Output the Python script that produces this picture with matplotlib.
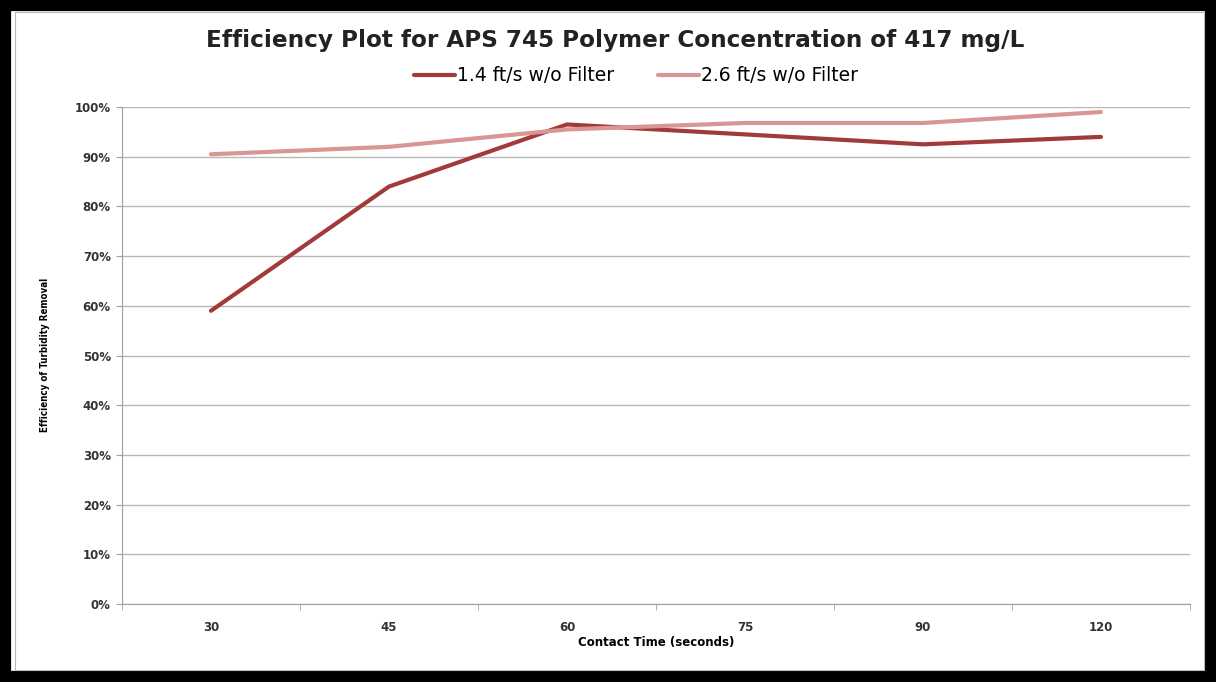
import matplotlib.pyplot as plt
from matplotlib.patches import Rectangle
from matplotlib.ticker import FuncFormatter

# data
contact_time = ["30", "45", "60", "75", "90", "120"]
eff_14 = [0.59, 0.84, 0.965, 0.945, 0.925, 0.94]
eff_26 = [0.905, 0.92, 0.955, 0.968, 0.968, 0.99]

dark_red = "#A33A3A"
light_red = "#D99694"

fig = plt.figure(figsize=(12.16, 6.82), dpi=100)
ax = fig.add_axes([0.1003, 0.1144, 0.8783, 0.7286])

x = list(range(len(contact_time)))
ax.plot(x, eff_14, color=dark_red, lw=3.0, label="1.4 ft/s w/o Filter", solid_capstyle="round", zorder=3)
ax.plot(x, eff_26, color=light_red, lw=3.0, label="2.6 ft/s w/o Filter", solid_capstyle="round", zorder=3)

ax.set_xlim(-0.5, len(x) - 0.5)
ax.set_ylim(0, 1.0)
ax.set_yticks([i / 10 for i in range(11)])
ax.yaxis.set_major_formatter(FuncFormatter(lambda v, p: f"{v * 100:.0f}%"))
ax.set_xticks(x)
ax.set_xticklabels(contact_time)
ax.set_xticks([i - 0.5 for i in range(len(x) + 1)], minor=True)

ax.grid(axis="y", color="#B8B8B8", lw=1.0)
ax.set_axisbelow(True)
for s in ["top", "right"]:
    ax.spines[s].set_visible(False)
ax.spines["left"].set_color("#A0A0A0")
ax.spines["bottom"].set_color("#A0A0A0")

ax.tick_params(axis="y", length=4, color="#A0A0A0", labelsize=8.5, pad=4)
ax.tick_params(axis="x", which="major", length=0, labelsize=8.5, pad=12)
ax.tick_params(axis="x", which="minor", length=4, color="#A0A0A0")
for lbl in ax.get_xticklabels() + ax.get_yticklabels():
    lbl.set_fontweight("bold")
    lbl.set_color("#333333")

ax.set_xlabel("Contact Time (seconds)", fontsize=8.5, fontweight="bold", labelpad=2)
fig.text(0.037, 0.48, "Efficiency of Turbidity Removal", rotation=90, fontsize=7,
         fontweight="bold", ha="center", va="center", fontstretch="condensed")

fig.text(0.506, 0.94, "Efficiency Plot for APS 745 Polymer Concentration of 417 mg/L",
         ha="center", va="center", fontsize=16.7, fontweight="bold", color="#222222")
ax.legend(loc="center", bbox_to_anchor=(0.523, 0.889), bbox_transform=fig.transFigure,
          ncol=2, frameon=False, fontsize=13.5, handlelength=2.2, handletextpad=0.1,
          columnspacing=2.3)

# thick black frame round the picture, thin grey inner line
fig.patches.append(Rectangle((0, 0), 1, 1, transform=fig.transFigure, fill=False,
                             ec="black", lw=16, zorder=10))
fig.patches.append(Rectangle((0.012, 0.018), 0.978, 0.965, transform=fig.transFigure,
                             fill=False, ec="#BBBBBB", lw=0.8, zorder=10))

fig.savefig("out.png", dpi=100)
